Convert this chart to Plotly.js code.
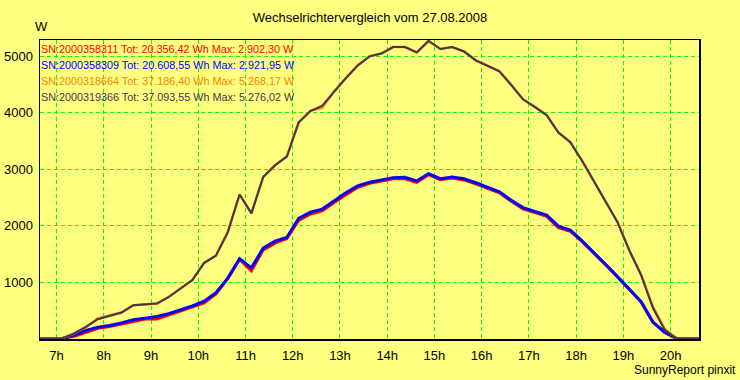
<!DOCTYPE html>
<html>
<head>
<meta charset="utf-8">
<script src="https://cdn.plot.ly/plotly-3.0.1.min.js"></script>
<style>
html,body{margin:0;padding:0;background:#ffff80;}
#chart{width:740px;height:380px;}
</style>
</head>
<body>
<div id="chart"></div>
<script>
// time of day in hours (15-minute averages)
const timeHours = [6.625, 6.875, 7.125, 7.375, 7.625, 7.875, 8.125, 8.375, 8.625, 8.875,
  9.125, 9.375, 9.625, 9.875, 10.125, 10.375, 10.625, 10.875, 11.125, 11.375,
  11.625, 11.875, 12.125, 12.375, 12.625, 12.875, 13.125, 13.375, 13.625, 13.875,
  14.125, 14.375, 14.625, 14.875, 15.125, 15.375, 15.625, 15.875, 16.125, 16.375,
  16.625, 16.875, 17.125, 17.375, 17.625, 17.875, 18.125, 18.375, 18.625, 18.875,
  19.125, 19.375, 19.625, 19.875, 20.125, 20.375, 20.625];

// SN:2000358311 (red)
const sn311 = [0, 0, 0, 40, 115, 180, 210, 255, 310, 345,
  345, 415, 480, 550, 630, 790, 1060, 1400, 1200, 1570,
  1690, 1770, 2090, 2205, 2260, 2410, 2550, 2680, 2750, 2790,
  2830, 2830, 2765, 2902, 2815, 2845, 2810, 2740, 2660, 2580,
  2430, 2295, 2230, 2165, 1965, 1900, 1715, 1515, 1305, 1090,
  865, 645, 285, 105, 0, 0, 0];

// SN:2000358309 (blue)
const sn309 = [0, 0, 0, 60, 140, 200, 230, 275, 330, 360,
  390, 440, 505, 575, 660, 812, 1070, 1414, 1251, 1602,
  1725, 1790, 2129, 2240, 2293, 2440, 2580, 2705, 2770, 2810,
  2850, 2855, 2792, 2922, 2832, 2862, 2830, 2760, 2680, 2598,
  2450, 2320, 2250, 2188, 1990, 1920, 1730, 1526, 1310, 1095,
  870, 650, 290, 110, 0, 0, 0];

// SN:2000318664 (orange)
const sn664 = [0, 0, 0, 90, 205, 355, 405, 460, 590, 605,
  618, 735, 880, 1035, 1340, 1470, 1890, 2551, 2217, 2862,
  3070, 3224, 3828, 4040, 4090, 4380, 4615, 4840, 5000, 5050,
  5164, 5164, 5070, 5268, 5130, 5164, 5087, 4930, 4835, 4735,
  4500, 4238, 4110, 3957, 3650, 3480, 3150, 2780, 2420, 2060,
  1560, 1130, 560, 170, 0, 0, 0];

// SN:2000319366 (dark purple-brown)
const sn366 = [0, 0, 0, 90, 205, 340, 405, 460, 590, 605,
  618, 735, 880, 1035, 1340, 1470, 1880, 2551, 2217, 2862,
  3070, 3224, 3828, 4030, 4125, 4380, 4615, 4840, 5000, 5050,
  5164, 5164, 5070, 5276, 5130, 5164, 5087, 4930, 4835, 4735,
  4490, 4238, 4100, 3957, 3650, 3480, 3150, 2780, 2420, 2060,
  1560, 1120, 540, 150, 0, 0, 0];

const hourTicks = [7, 8, 9, 10, 11, 12, 13, 14, 15, 16, 17, 18, 19, 20];
const hourLabels = ['7h', '8h', '9h', '10h', '11h', '12h', '13h', '14h', '15h', '16h', '17h', '18h', '19h', '20h'];
const powerTicks = [1000, 2000, 3000, 4000, 5000];

const legendTexts = [
  'SN:2000358311 Tot: 20.356,42 Wh Max: 2.902,30 W',
  'SN:2000358309 Tot: 20.608,55 Wh Max: 2.921,95 W',
  'SN:2000318664 Tot: 37.186,40 Wh Max: 5.268,17 W',
  'SN:2000319366 Tot: 37.093,55 Wh Max: 5.276,02 W'
];
const colors = ['#ff0000', '#0000ff', '#ff8000', '#45344f'];

const FONT = 'Liberation Sans, Arial, sans-serif';

const traces = [
  {x: timeHours, y: sn311, mode: 'lines', line: {color: colors[0], width: 3}},
  {x: timeHours, y: sn309, mode: 'lines', line: {color: colors[1], width: 3}},
  {x: timeHours, y: sn664, mode: 'lines', line: {color: colors[2], width: 2.5}},
  {x: timeHours, y: sn366, mode: 'lines', line: {color: colors[3], width: 2}}
];

const annotations = legendTexts.map((t, i) => ({
  xref: 'paper', yref: 'paper', x: 0, y: 1,
  xanchor: 'left', yanchor: 'middle',
  xshift: -1, yshift: -8.5 - 16 * i,
  text: t, showarrow: false,
  font: {family: FONT, size: 10.8, color: colors[i]}
}));
annotations.push({
  xref: 'paper', yref: 'paper', x: 0, y: 1,
  xanchor: 'center', yanchor: 'middle', xshift: 1, yshift: 14,
  text: 'W', showarrow: false, font: {family: FONT, size: 13, color: '#000'}
});
annotations.push({
  xref: 'paper', yref: 'paper', x: 1, y: 0,
  xanchor: 'right', yanchor: 'middle', xshift: 39, yshift: -31,
  text: 'SunnyReport pinxit', showarrow: false, font: {family: FONT, size: 12, color: '#000'}
});

const layout = {
  width: 740, height: 380,
  margin: {l: 40, r: 41, t: 40, b: 41, pad: 0},
  paper_bgcolor: '#ffff80', plot_bgcolor: '#ffff80',
  showlegend: false, hovermode: false,
  title: {text: 'Wechselrichtervergleich vom 27.08.2008', x: 0.5, xanchor: 'center',
          y: 1, yref: 'container', yanchor: 'top', pad: {t: 13},
          font: {family: FONT, size: 13, color: '#000'}},
  xaxis: {range: [6.65, 20.6], tickvals: hourTicks, ticktext: hourLabels,
          showgrid: true, gridcolor: '#00ff00', griddash: '4px,3px', gridwidth: 1,
          showline: true, linecolor: '#000', linewidth: 1.5, mirror: true,
          ticks: '', zeroline: false, ticklabelstandoff: 4,
          tickfont: {family: FONT, size: 13, color: '#000'}},
  yaxis: {range: [-10, 5290], tickvals: powerTicks,
          showgrid: true, gridcolor: '#00ff00', griddash: '4px,3px', gridwidth: 1,
          showline: true, linecolor: '#000', linewidth: 1.5, mirror: true,
          ticks: '', zeroline: false, ticklabelstandoff: 3,
          tickfont: {family: FONT, size: 13, color: '#000'}},
  annotations: annotations
};

Plotly.newPlot('chart', traces, layout, {staticPlot: true, displayModeBar: false});
</script>
</body>
</html>
